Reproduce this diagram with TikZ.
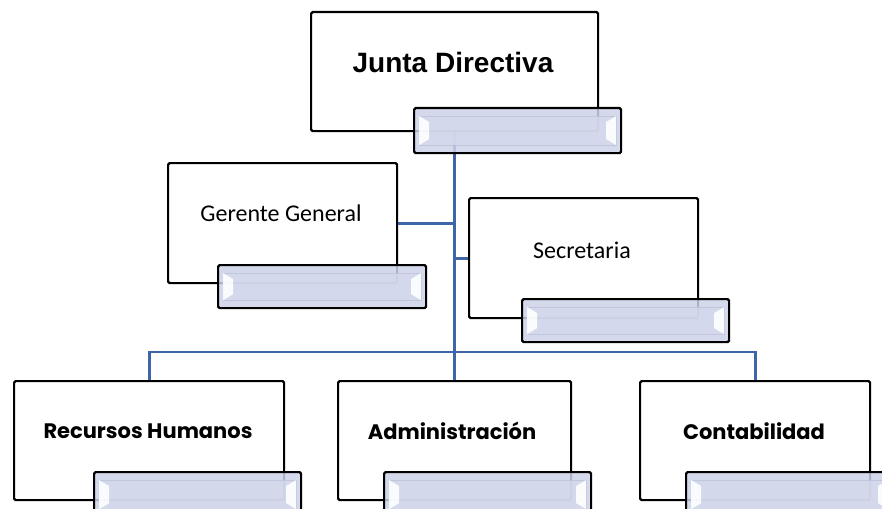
\documentclass[tikz,border=0pt]{standalone}
\usepackage{fontspec}
\newfontfamily\arialf{Liberation Sans}
\newfontfamily\calf{Carlito}
\newfontfamily\popf{Poppins}
\definecolor{lineblue}{RGB}{62,100,170}
\definecolor{bandfill}{RGB}{204,210,232}
\definecolor{bandin}{RGB}{212,217,236}
\definecolor{bandedge}{RGB}{180,188,212}
\tikzset{
  x=1pt, y=-1pt,
  orgbox/.style={draw=black, line width=2.2pt, fill=white, rounded corners=1.5pt, inner sep=0pt, anchor=north west},
  bandst/.style={draw=black, line width=2.2pt, fill=bandfill, fill opacity=0.85, rounded corners=1.5pt, inner sep=0pt, anchor=north west},
  conn/.style={draw=lineblue, line width=2.8pt},
  toptext/.style={font=\arialf\bfseries\fontsize{28}{32}\selectfont},
  midtext/.style={font=\calf\fontsize{24}{28}\selectfont},
  bottext/.style={font=\popf\bfseries\fontsize{21}{25}\selectfont},
}
\newcommand\bandbox[5]{%
  \node[bandst, minimum width=#4pt, minimum height=#5pt] (#1) at (#2,#3) {};
  \fill[bandin, opacity=.8] ([xshift=16pt,yshift=-9pt]#1.north west) rectangle ([xshift=-16pt,yshift=9pt]#1.south east);
  \draw[bandedge, line width=.8pt, opacity=.6] ([xshift=6pt,yshift=-9pt]#1.north west) rectangle ([xshift=-6pt,yshift=9pt]#1.south east);
  \fill[white, opacity=.9] ([xshift=6pt,yshift=-9pt]#1.north west) -- ([xshift=16pt,yshift=-15pt]#1.north west) -- ([xshift=16pt,yshift=15pt]#1.south west) -- ([xshift=6pt,yshift=9pt]#1.south west) -- cycle;
  \fill[white, opacity=.9] ([xshift=-6pt,yshift=-9pt]#1.north east) -- ([xshift=-16pt,yshift=-15pt]#1.north east) -- ([xshift=-16pt,yshift=15pt]#1.south east) -- ([xshift=-6pt,yshift=9pt]#1.south east) -- cycle;
}
\begin{document}
\begin{tikzpicture}
\useasboundingbox (0,0) rectangle (882,508);
% boxes
\node[orgbox, minimum width=287pt, minimum height=119pt] (junta) at (310,11) {};
\node[orgbox, minimum width=229pt, minimum height=120pt] (ger) at (167,162) {};
\node[orgbox, minimum width=229pt, minimum height=120pt] (sec) at (468,197) {};
\node[orgbox, minimum width=270pt, minimum height=119pt] (rh) at (13,380) {};
\node[orgbox, minimum width=233pt, minimum height=119pt] (adm) at (337,380) {};
\node[orgbox, minimum width=230pt, minimum height=119pt] (cont) at (639,380) {};
% connectors
\coordinate (hub) at (junta.south |- 0,352);
\draw[conn] (junta.south) -- (hub);
\draw[conn] (ger.east) -- (ger.east -| hub);
\draw[conn] (sec.west) -- (sec.west -| hub);
\draw[conn] (rh.north) |- (hub) -| (cont.north);
\draw[conn] (hub) -- (adm.north);
% texts
\node[toptext] (tj) at (453,62) {Junta Directiva};
\node[midtext] (tg) at (281,213) {Gerente General};
\node[midtext] (ts) at (582,250) {Secretaria};
\node[bottext] (tr) at (148,431) {Recursos Humanos};
\node[bottext] (ta) at (452,431) {Administración};
\node[bottext] (tc) at (754,431) {Contabilidad};
% bands
\bandbox{bj}{413}{107}{207}{45}
\bandbox{bg}{217}{264}{208}{43}
\bandbox{bs}{521}{298}{207}{43}
\bandbox{br}{93}{471}{207}{45}
\bandbox{ba}{383}{471}{207}{45}
\bandbox{bc}{685}{471}{207}{45}
\end{tikzpicture}
\end{document}
